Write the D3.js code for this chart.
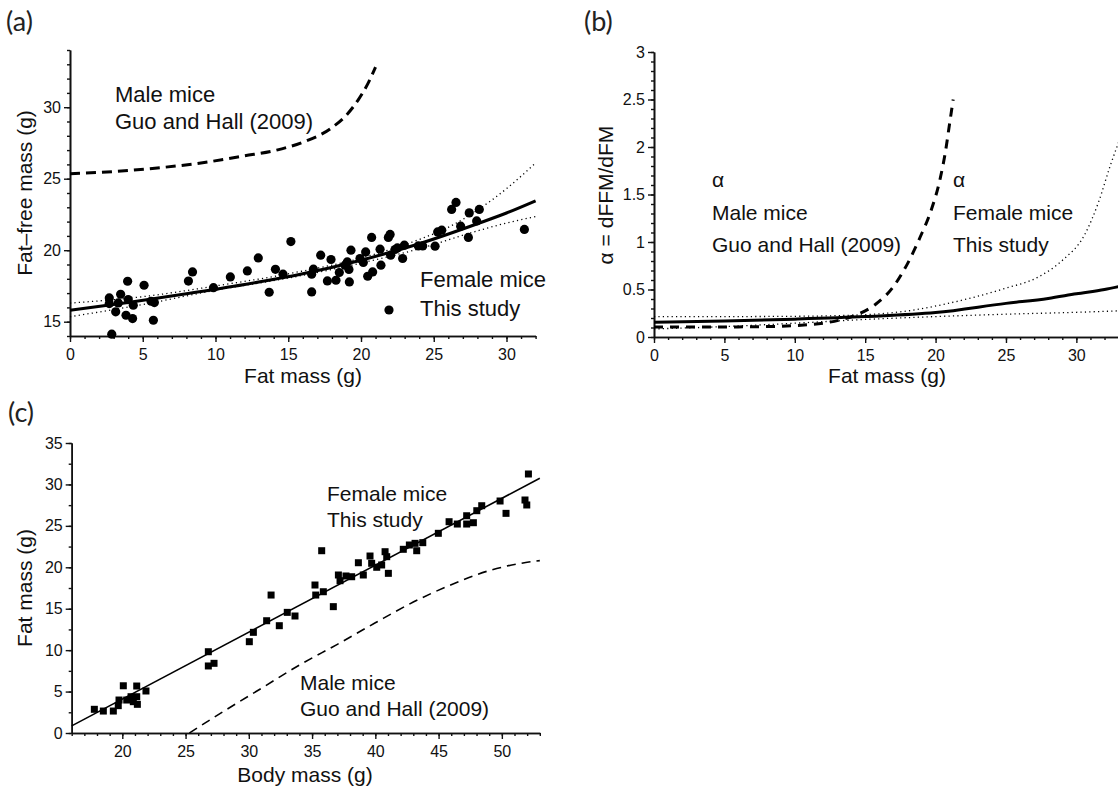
<!DOCTYPE html>
<html>
<head>
<meta charset="utf-8">
<script src="https://cdn.jsdelivr.net/npm/d3@7"></script>
<style>
  html, body { margin: 0; padding: 0; background: #fff; }
  svg { display: block; }
  .tick text { font-family: "Liberation Sans", Arial, sans-serif; font-size: 16px; fill: #111; }
  .lbl { font-family: "Liberation Sans", Arial, sans-serif; fill: #111; }
  .panel { font-family: "Lato", "Open Sans", sans-serif; font-size: 27px; fill: #222; }
</style>
</head>
<body>
<svg id="fig" width="1118" height="791"></svg>
<script>
// ---------- (a) fat-free mass vs fat mass, female mice ----------
const aFat = [2.70,2.70,2.87,3.14,3.32,3.48,3.96,4.00,3.85,4.30,4.35,5.09,5.57,5.80,5.73,8.14,8.42,9.86,
  11.02,12.19,12.94,13.69,14.12,14.64,15.18,16.61,16.73,16.61,17.23,17.69,17.94,18.28,18.51,18.90,19.06,
  19.17,19.20,19.31,19.93,20.16,20.32,20.46,20.73,20.80,21.31,21.37,21.88,22.00,22.04,22.34,22.50,22.86,
  22.98,23.94,24.24,25.09,25.27,25.55,26.23,26.53,26.85,27.38,27.44,27.95,28.13,31.23];
const aFFM = [16.66,16.27,14.13,15.69,16.31,16.92,17.83,16.55,15.45,15.22,16.15,17.55,16.43,16.34,15.10,17.84,18.48,17.38,
  18.13,18.55,19.46,17.06,18.66,18.32,20.60,18.32,18.67,17.08,19.65,17.85,19.35,17.90,18.44,18.95,19.18,
  18.65,17.78,20.00,19.42,19.14,19.88,18.18,20.89,18.48,20.07,18.95,20.89,21.10,19.65,20.05,20.16,19.42,
  20.35,20.30,20.30,20.28,21.28,21.40,22.85,23.34,21.68,20.89,22.61,22.05,22.85,21.45];

// fitted female curve and its confidence band
const aFitFat = [0, 4, 8, 12, 16, 20, 24, 28, 30, 32];
const aFitFFM = [15.80, 16.35, 16.95, 17.60, 18.35, 19.30, 20.45, 21.85, 22.60, 23.45];
const aUpFat  = [0, 5, 10, 15, 20, 24, 26, 28, 30, 32];
const aUpFFM  = [16.30, 16.75, 17.50, 18.35, 19.45, 20.75, 21.60, 22.80, 24.30, 26.10];
const aLoFat  = [0, 5, 10, 15, 20, 24, 28, 30, 32];
const aLoFFM  = [15.35, 16.20, 17.20, 18.05, 19.10, 20.10, 21.35, 21.90, 22.35];

// male mice, Guo and Hall (2009)
const aMaleFat = [0, 3, 6, 9, 12, 14.2, 16, 17.9, 19, 19.8, 20.5, 21.0];
const aMaleFFM = [25.35, 25.5, 25.75, 26.1, 26.6, 27.0, 27.55, 28.5, 29.45, 30.5, 31.7, 32.8];

// ---------- (b) alpha = dFFM/dFM ----------
const bMaleFat   = [0, 4, 8, 10, 12, 13.1, 14.5, 15.7, 17.0, 18.0, 18.9, 19.7, 20.3, 20.7, 21.0, 21.25];
const bMaleAlpha = [0.105, 0.105, 0.11, 0.12, 0.145, 0.175, 0.24, 0.34, 0.53, 0.77, 1.05, 1.34, 1.65, 1.95, 2.25, 2.5];
const bFemFat    = [0, 5, 10, 15, 20, 25, 28, 30, 32, 33];
const bFemAlpha  = [0.156, 0.168, 0.188, 0.215, 0.257, 0.354, 0.406, 0.455, 0.50, 0.53];
const bUpFat     = [0, 5, 10, 15, 18.5, 20.9, 24.9, 27.3, 29.0, 30.6, 31.6, 32.4, 33];
const bUpAlpha   = [0.215, 0.215, 0.218, 0.235, 0.285, 0.354, 0.51, 0.632, 0.806, 1.08, 1.43, 1.8, 2.05];
const bLoFat     = [0, 5, 10, 15, 20, 25, 30, 33];
const bLoAlpha   = [0.085, 0.11, 0.145, 0.185, 0.215, 0.24, 0.26, 0.275];

// ---------- (c) fat mass vs body mass ----------
const cBody = [17.79,18.50,19.29,19.68,19.74,20.08,20.35,20.69,20.87,21.14,21.14,21.19,21.87,26.80,26.80,27.25,
  30.04,30.36,31.41,31.76,32.41,33.04,33.65,35.23,35.29,35.89,36.68,37.08,37.21,37.68,38.13,39.05,39.71,40.11,
  40.50,41.03,35.76,38.66,39.58,40.77,40.90,42.21,42.69,43.14,43.27,43.75,44.98,45.83,46.48,47.22,47.22,47.75,
  48.02,48.41,49.86,50.33,51.83,51.97,52.10];
const cFat  = [2.86,2.65,2.65,3.30,3.98,5.70,3.98,4.38,3.78,5.67,4.38,3.46,5.07,9.81,8.09,8.41,
  11.02,12.15,13.55,16.65,12.95,14.56,14.12,17.86,16.65,17.05,15.25,19.07,18.38,18.95,18.86,19.07,20.48,20.00,
  20.28,19.27,22.00,20.55,21.36,21.88,21.28,22.17,22.69,22.89,22.00,22.97,24.10,25.50,25.22,26.22,25.22,25.38,
  26.83,27.43,28.00,26.51,28.12,27.52,31.26];
const cFitBody = [16, 53];
const cFitFat  = [0.86, 30.75];
const cMaleBody = [25.3, 28, 31, 34, 37, 40, 43, 46, 49, 52, 53];
const cMaleFat  = [0, 2.6, 5.4, 8.2, 10.7, 13.3, 15.8, 17.9, 19.6, 20.6, 20.8];

const svg = d3.select("#fig");

function zip(xs, ys) { return xs.map((x, i) => [x, ys[i]]); }

function drawAxes(g, x, y, opt) {
  const xa = g.append("g").attr("transform", `translate(0,${y.range()[0]})`);
  xa.call(d3.axisBottom(x).tickValues(opt.xMinor).tickSize(3).tickSizeOuter(0).tickFormat(""));
  xa.append("g").call(d3.axisBottom(x).tickValues(opt.xMajor).tickSize(6).tickSizeOuter(0).tickPadding(7).tickFormat(d3.format("d")));
  const ya = g.append("g").attr("transform", `translate(${x.range()[0]},0)`);
  ya.call(d3.axisLeft(y).tickValues(opt.yMinor).tickSize(3).tickSizeOuter(0).tickFormat(""));
  ya.append("g").call(d3.axisLeft(y).tickValues(opt.yMajor).tickSize(6).tickSizeOuter(0).tickPadding(3).tickFormat(opt.yFmt || d3.format("d")));
  g.selectAll(".domain").attr("stroke", "#111").attr("stroke-width", 1.6);
  g.selectAll(".tick line").attr("stroke", "#111").attr("stroke-width", 1.4);
}

function line(g, x, y, xs, ys, style) {
  g.append("path")
    .datum(zip(xs, ys))
    .attr("fill", "none")
    .attr("stroke", "#000")
    .attr("stroke-width", style.w)
    .attr("stroke-dasharray", style.dash || null)
    .attr("d", d3.line().x(d => x(d[0])).y(d => y(d[1])).curve(style.curve || d3.curveMonotoneX));
}

function text(g, str, xx, yy, size, anchor) {
  return g.append("text").attr("class", "lbl").attr("x", xx).attr("y", yy)
    .attr("font-size", size).attr("text-anchor", anchor || "start").text(str);
}

const DOT = { w: 1.3, dash: "1.2,3.2" };

// ---------- panel (a) ----------
{
  const g = svg.append("g");
  const x = d3.scaleLinear().domain([0, 32]).range([70, 535.6]);
  const y = d3.scaleLinear().domain([14, 34]).range([336, 50]);
  drawAxes(g, x, y, {
    xMajor: d3.range(0, 31, 5), xMinor: d3.range(0, 33, 1),
    yMajor: [15, 20, 25, 30], yMinor: d3.range(14, 35, 1)
  });
  line(g, x, y, aUpFat, aUpFFM, DOT);
  line(g, x, y, aLoFat, aLoFFM, DOT);
  line(g, x, y, aFitFat, aFitFFM, { w: 3 });
  line(g, x, y, aMaleFat, aMaleFFM, { w: 3, dash: "10,6" });
  g.append("g").selectAll("circle").data(zip(aFat, aFFM)).join("circle")
    .attr("cx", d => x(d[0])).attr("cy", d => y(d[1])).attr("r", 4.6).attr("fill", "#000");
  text(g, "Male mice", 115, 102, 22);
  text(g, "Guo and Hall (2009)", 115, 129, 22);
  text(g, "Female mice", 420, 287, 22);
  text(g, "This study", 420, 316, 22);
  g.append("circle").attr("cx", 389).attr("cy", 310).attr("r", 4.6).attr("fill", "#000");
  text(g, "Fat mass (g)", 303, 383, 21, "middle");
  text(g, "Fat\u2013free mass (g)", 0, 0, 21, "middle").attr("transform", "translate(32,193) rotate(-90)");
  g.append("text").attr("class", "panel").attr("x", 6).attr("y", 31).text("(a)");
}

// ---------- panel (b) ----------
{
  const g = svg.append("g");
  const x = d3.scaleLinear().domain([0, 33]).range([654, 1118.6]);
  const y = d3.scaleLinear().domain([0, 3]).range([337, 52]);
  drawAxes(g, x, y, {
    xMajor: d3.range(0, 31, 5), xMinor: d3.range(0, 34, 1),
    yMajor: [0, 0.5, 1, 1.5, 2, 2.5, 3], yMinor: d3.range(0, 30.5, 1).map(v => v / 10),
    yFmt: d3.format("~g")
  });
  line(g, x, y, bUpFat, bUpAlpha, DOT);
  line(g, x, y, bLoFat, bLoAlpha, DOT);
  line(g, x, y, bFemFat, bFemAlpha, { w: 3 });
  line(g, x, y, bMaleFat, bMaleAlpha, { w: 3, dash: "9,7" });
  text(g, "\u03b1", 712, 187, 21);
  text(g, "Male mice", 712, 220, 21);
  text(g, "Guo and Hall (2009)", 712, 252, 21);
  text(g, "\u03b1", 953, 187, 21);
  text(g, "Female mice", 953, 220, 21);
  text(g, "This study", 953, 252, 21);
  text(g, "Fat mass (g)", 887, 383, 21, "middle");
  text(g, "\u03b1 = dFFM/dFM", 0, 0, 21, "middle").attr("transform", "translate(613,195) rotate(-90)");
  g.append("text").attr("class", "panel").attr("x", 584).attr("y", 31).text("(b)");
}

// ---------- panel (c) ----------
{
  const g = svg.append("g");
  const x = d3.scaleLinear().domain([16, 53]).range([71.7, 539.8]);
  const y = d3.scaleLinear().domain([0, 35]).range([733, 443]);
  drawAxes(g, x, y, {
    xMajor: d3.range(20, 51, 5), xMinor: d3.range(16, 54, 1),
    yMajor: d3.range(0, 36, 5), yMinor: d3.range(0, 36, 2.5)
  });
  line(g, x, y, cFitBody, cFitFat, { w: 1.6, curve: d3.curveLinear });
  line(g, x, y, cMaleBody, cMaleFat, { w: 1.6, dash: "9,6" });
  const s = 7;
  g.append("g").selectAll("rect").data(zip(cBody, cFat)).join("rect")
    .attr("x", d => x(d[0]) - s / 2).attr("y", d => y(d[1]) - s / 2)
    .attr("width", s).attr("height", s).attr("fill", "#000");
  text(g, "Female mice", 327, 501, 21);
  text(g, "This study", 327, 527, 21);
  text(g, "Male mice", 300, 690, 21);
  text(g, "Guo and Hall (2009)", 300, 716, 21);
  text(g, "Body mass (g)", 305, 782, 21, "middle");
  text(g, "Fat mass (g)", 0, 0, 21, "middle").attr("transform", "translate(32,588) rotate(-90)");
  g.append("text").attr("class", "panel").attr("x", 8).attr("y", 422).text("(c)");
}
</script>
</body>
</html>
